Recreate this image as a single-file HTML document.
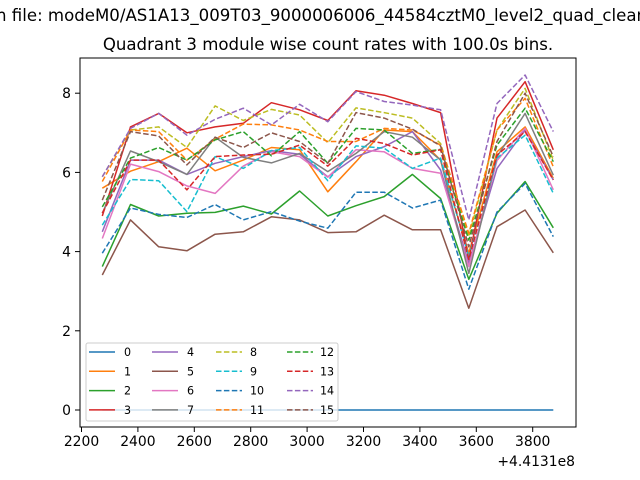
<!DOCTYPE html>
<html><head><meta charset="utf-8"><style>
html,body{margin:0;padding:0;background:#fff;}
svg{display:block;font-family:"DejaVu Sans","Liberation Sans",sans-serif;}
</style></head><body>
<svg id="s" width="640" height="480" xmlns="http://www.w3.org/2000/svg">
<rect width="640" height="480" fill="#fff"/>
<text x="-4" y="21" font-size="16.6" fill="#000">n file: modeM0/AS1A13_009T03_9000006006_44584cztM0_level2_quad_clean</text>
<text x="328" y="50" font-size="16.6" text-anchor="middle" fill="#000">Quadrant 3 module wise count rates with 100.0s bins.</text>
<g id="lines"></g>
<rect x="80" y="58" width="496" height="369" fill="none" stroke="#000" stroke-width="1"/>
<g id="ticks" font-size="13.9" fill="#000"></g>
<text x="575" y="466" font-size="13.9" text-anchor="end">+4.4131e8</text>
<g id="legend"></g>
</svg>
<script>
var C=["#1f77b4","#ff7f0e","#2ca02c","#d62728","#9467bd","#8c564b","#e377c2","#7f7f7f","#bcbd22","#17becf"];
var D=[
[0,0,0,0,0,0,0,0,0,0,0,0,0,0,0,0,0],
[5.6,6.03,6.27,6.61,6.04,6.31,6.63,6.57,5.51,6.27,7.07,7.03,6.31,3.96,6.52,7.15,5.85],
[3.62,5.19,4.9,4.97,4.99,5.15,4.95,5.53,4.9,5.16,5.39,5.95,5.34,3.3,4.97,5.77,4.6],
[4.9,7.15,7.49,7.0,7.15,7.24,7.76,7.58,7.31,8.06,7.95,7.74,7.51,3.8,7.37,8.29,6.57],
[4.5,6.31,6.31,5.95,6.23,6.4,6.55,6.46,5.89,6.4,6.65,7.03,6.06,3.7,6.1,7.07,5.81],
[3.41,4.8,4.12,4.02,4.44,4.5,4.88,4.8,4.48,4.5,4.92,4.55,4.55,2.57,4.63,5.05,3.97],
[4.33,6.21,6.02,5.66,5.47,6.16,6.52,6.4,5.88,6.57,6.52,6.1,5.98,3.62,6.3,7.11,5.56],
[4.97,6.54,6.27,5.95,6.89,6.38,6.24,6.48,6.02,6.48,7.03,6.89,6.31,3.45,6.4,7.49,5.93],
[5.89,7.07,7.15,6.63,7.68,7.31,7.59,7.45,6.75,7.63,7.51,7.37,6.73,4.38,7.07,8.12,6.31],
[4.67,5.82,5.79,5.01,6.4,6.1,6.55,6.63,5.79,6.67,6.61,6.1,6.36,3.87,6.36,6.94,5.47],
[3.96,5.1,4.94,4.86,5.19,4.8,5.01,4.77,4.59,5.5,5.5,5.1,5.3,3.05,5.0,5.72,4.38],
[5.77,7.07,7.03,6.31,6.84,7.22,7.2,7.07,6.78,6.78,7.11,7.07,6.69,4.46,7.07,7.87,6.14],
[5.13,6.36,6.63,6.31,6.82,7.03,6.42,7.03,6.23,7.11,7.07,6.48,6.58,4.29,6.69,7.62,6.27],
[4.97,6.31,6.31,5.56,6.4,6.44,6.46,6.69,6.16,6.86,6.73,6.44,6.57,3.8,6.44,7.03,5.81],
[5.89,7.11,7.49,6.94,7.34,7.62,7.2,7.72,7.28,8.04,7.79,7.7,7.58,4.8,7.74,8.46,7.03],
[5.3,7.03,6.92,6.19,6.89,6.63,7.0,6.78,6.23,7.51,7.37,7.09,6.67,4.12,6.78,8.0,6.4]];
var NS="http://www.w3.org/2000/svg";
function el(t,a,p,txt){var e=document.createElementNS(NS,t);for(var k in a)e.setAttribute(k,a[k]);if(txt!==undefined)e.textContent=txt;p.appendChild(e);return e;}
function X(i){return 102.3+28.19*i;}
function Y(v){return 410-39.6*v;}
var g=document.getElementById("lines");
for(var s=0;s<16;s++){var p=[];for(var i=0;i<17;i++)p.push(X(i).toFixed(1)+","+Y(D[s][i]).toFixed(1));
var a={points:p.join(" "),fill:"none",stroke:C[s%10],"stroke-width":1.5,"stroke-linejoin":"round"};
if(s>=8)a["stroke-dasharray"]="5.5,2.4";el("polyline",a,g);}
var t=document.getElementById("ticks");
for(var v=2200;v<=3800;v+=200){var x=81.5+(v-2200)*0.282;el("line",{x1:x,y1:427,x2:x,y2:432,stroke:"#000"},t);el("text",{x:x,y:446,"text-anchor":"middle"},t,""+v);}
for(var v=0;v<=8;v+=2){var y=Y(v);el("line",{x1:75,y1:y,x2:80,y2:y,stroke:"#000"},t);el("text",{x:71,y:y+5,"text-anchor":"end"},t,""+v);}
var L=document.getElementById("legend");
el("rect",{x:86,y:343,width:252,height:78,rx:2,fill:"#fff","fill-opacity":0.8,stroke:"#ccc"},L);
var hx=[89,152,216,287],tx=[124,187,250,320];
for(var s=0;s<16;s++){var c=Math.floor(s/4),r=s%4,y=352+r*19.3;
var a={x1:hx[c],y1:y,x2:hx[c]+26,y2:y,stroke:C[s%10],"stroke-width":1.5};if(s>=8)a["stroke-dasharray"]="5.5,2.4";
el("line",a,L);el("text",{x:tx[c],y:y+4,"font-size":"11.1"},L,""+s);}
</script>
</body></html>
